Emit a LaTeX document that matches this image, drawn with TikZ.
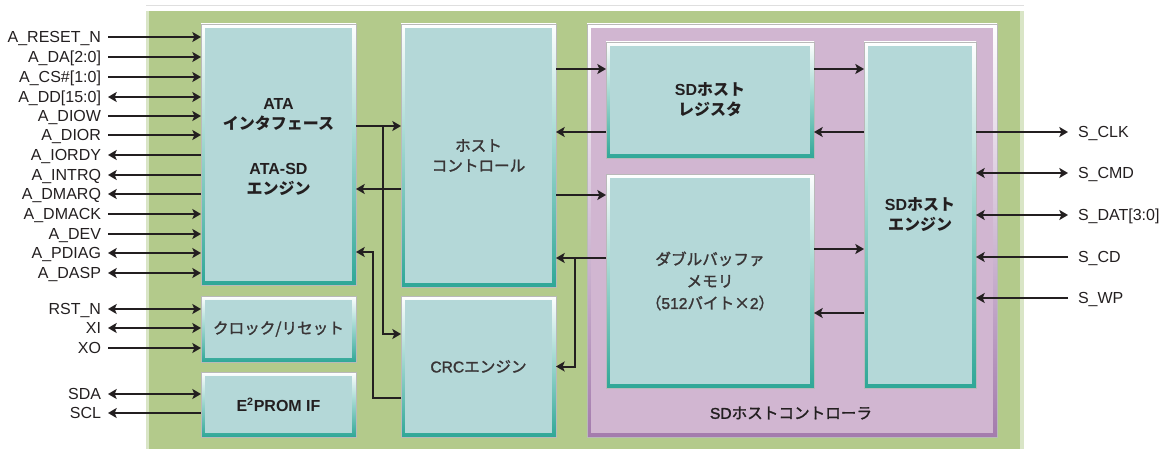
\documentclass[tikz,border=0pt]{standalone}
\usepackage{fontspec}
\setmainfont{Liberation Sans}
\newfontfamily\jp{Noto Sans CJK JP}
\newfontfamily\jpm{Noto Sans CJK JP}[UprightFeatures={FakeBold=1.6}]
\newfontfamily\latm{Liberation Sans}[UprightFeatures={FakeBold=1.6}]
\newcommand\latn[1]{{\rmfamily #1}}
\usetikzlibrary{arrows.meta,calc}

\definecolor{boardgreen}{HTML}{B3CA8B}
\definecolor{boardedge}{HTML}{D9E5C6}
\definecolor{blockface}{HTML}{B4D8D8}
\definecolor{blockedge}{HTML}{2FA797}
\definecolor{sdcface}{HTML}{D1B6D1}
\definecolor{sdcedge}{HTML}{A47BAD}
\definecolor{wireblack}{HTML}{231F20}

\begin{document}
\begin{tikzpicture}[x=0.75pt,y=-0.75pt]

\tikzset{
  bevel/.style={draw=gray!55, line width=0.4pt, inner sep=0pt, outer sep=0pt, top color=white,
    path picture={\fill[#1] ([shift={(3pt,-3pt)}]path picture bounding box.north west)
      rectangle ([shift={(-3pt,3pt)}]path picture bounding box.south east);}},
  block/.style={bevel=blockface, bottom color=blockedge, align=center, text=wireblack!90,
    font=\jpm\fontsize{11.7}{15}\selectfont},
  boldblock/.style={block, text=wireblack, font=\jp\bfseries\fontsize{12}{15}\selectfont},
  lsig/.style={anchor=east, font=\fontsize{12}{13}\selectfont, text=wireblack, text height=8.6pt,
    text depth=0pt, inner xsep=5.25pt, inner ysep=0pt, outer sep=0pt},
  rsig/.style={lsig, anchor=west, inner xsep=7.5pt},
  wire/.style={line width=1.5pt, draw=wireblack},
  >={Stealth[length=6.5pt,width=7.5pt,inset=1.5pt]}
}

\useasboundingbox (0,0) rectangle (1162,449);

% Board background
\draw[gray!25, line width=0.75pt] (146,6) -- (1024,6);
\fill[boardedge] (146,11) rectangle (1024,449);
\fill[boardgreen] (149,11) rectangle (1020,449);

% Draw the blocks
\node[bevel=sdcface, bottom color=sdcedge, minimum width=307.5pt, minimum height=309.75pt] (sdc) at (792,230.5) {};
\node[block, minimum width=116.25pt, minimum height=195.75pt] (ata) at (278.5,154.5) {};
\node[font=\jp\bfseries\fontsize{12}{15}\selectfont, text=wireblack, align=center] (atatext) at (278.5,147.5)
  {\latn{ATA}\\インタフェース\\[18.75pt]\latn{ATA-SD}\\エンジン};
\node[block, minimum width=116.25pt, minimum height=49.5pt] (clk) at (278.5,329) {クロック/リセット};
\node[boldblock, minimum width=116.25pt, minimum height=48.75pt] (eprom) at (278.5,404.5) {\latn{E\textsuperscript{2}PROM IF}};
\node[block, minimum width=116.25pt, minimum height=197.25pt] (host) at (478.5,155.5) {ホスト\\コントロール};
\node[block, minimum width=116.25pt, minimum height=105.75pt] (crc) at (478.5,366.5) {{\latm CRC}エンジン};
\node[boldblock, minimum width=156pt, minimum height=87pt] (reg) at (710,100) {\latn{SD}ホスト\\レジスタ};
\node[block, font=\jpm\fontsize{11.7}{16.5}\selectfont, minimum width=156pt, minimum height=160.5pt] (buf) at (710,281)
  {ダブルバッファ\\メモリ\\（{\latm 512}バイト×{\latm 2}）};
\node[boldblock, minimum width=84pt, minimum height=259.5pt] (eng) at (920,215) {\latn{SD}ホスト\\エンジン};
\node[font=\jpm\fontsize{11.7}{15}\selectfont, text=wireblack] (sdclabel) at (791,413) {{\latm SD}ホストコントローラ};

% ATA side signals
\node[lsig] (lreset) at (108,37) {A\_RESET\_N};
\node[lsig] (lda) at (108,57) {A\_DA[2:0]};
\node[lsig] (lcs) at (108,77) {A\_CS\#[1:0]};
\node[lsig] (ldd) at (108,97) {A\_DD[15:0]};
\node[lsig] (ldiow) at (108,116) {A\_DIOW};
\node[lsig] (ldior) at (108,135) {A\_DIOR};
\node[lsig] (liordy) at (108,155) {A\_IORDY};
\node[lsig] (lintrq) at (108,175) {A\_INTRQ};
\node[lsig] (ldmarq) at (108,194) {A\_DMARQ};
\node[lsig] (ldmack) at (108,214) {A\_DMACK};
\node[lsig] (ldev) at (108,234) {A\_DEV};
\node[lsig] (lpdiag) at (108,253) {A\_PDIAG};
\node[lsig] (ldasp) at (108,273) {A\_DASP};
\node[lsig] (lrst) at (108,309) {RST\_N};
\node[lsig] (lxi) at (108,328) {XI};
\node[lsig] (lxo) at (108,348) {XO};
\node[lsig] (lsda) at (108,394) {SDA};
\node[lsig] (lscl) at (108,413) {SCL};

% SD card side signals
\node[rsig] (rclk) at (1068,132) {S\_CLK};
\node[rsig] (rcmd) at (1068,173) {S\_CMD};
\node[rsig] (rdat) at (1068,215) {S\_DAT[3:0]};
\node[rsig] (rcd) at (1068,257) {S\_CD};
\node[rsig] (rwp) at (1068,298) {S\_WP};

\tikzset{every edge/.append style={wire}};

% External pins
\path
  (lreset) edge[->] (lreset -| ata.west)
  (lda) edge[->] (lda -| ata.west)
  (lcs) edge[->] (lcs -| ata.west)
  (ldd) edge[<->] (ldd -| ata.west)
  (ldiow) edge[->] (ldiow -| ata.west)
  (ldior) edge[->] (ldior -| ata.west)
  (liordy) edge[<-] (liordy -| ata.west)
  (lintrq) edge[<-] (lintrq -| ata.west)
  (ldmarq) edge[<-] (ldmarq -| ata.west)
  (ldmack) edge[->] (ldmack -| ata.west)
  (ldev) edge[->] (ldev -| ata.west)
  (lpdiag) edge[<->] (lpdiag -| ata.west)
  (ldasp) edge[<->] (ldasp -| ata.west)
  (lrst) edge[<->] (lrst -| clk.west)
  (lxi) edge[<->] (lxi -| clk.west)
  (lxo) edge[->] (lxo -| clk.west)
  (lsda) edge[<->] (lsda -| eprom.west)
  (lscl) edge[<-] (lscl -| eprom.west)
  (rclk) edge[<-] (rclk -| eng.east)
  (rcmd) edge[<->] (rcmd -| eng.east)
  (rdat) edge[<->] (rdat -| eng.east)
  (rcd) edge[->] (rcd -| eng.east)
  (rwp) edge[->] (rwp -| eng.east);

% ATA <-> host control, CRC
\draw[wire,->] ($(ata.east)+(0,-28.5)$) coordinate (atax) -- (atax -| host.west);
\draw[wire,->] ($(atax)+(27,0)$) |- ($(crc.west)+(0,-32.5)$);
\draw[wire,->] ($(host.west)+(0,33.5)$) coordinate (hosta) -- (hosta -| ata.east);
\draw[wire,->] ($(crc.west)+(0,31.5)$) -- ++(-28,0) |- ($(ata.east)+(0,97.5)$);

% host control <-> SD host controller
\draw[wire,->] ($(host.east)+(0,-86.5)$) coordinate (hostr) -- (hostr -| reg.west);
\draw[wire,->] ($(reg.west)+(0,32)$) coordinate (regh) -- (regh -| host.east);
\draw[wire,->] ($(host.east)+(0,39.5)$) coordinate (hostb) -- (hostb -| buf.west);
\draw[wire,->] ($(buf.west)+(0,-23)$) coordinate (bufh) -- (bufh -| host.east);
\draw[wire,->] ($(bufh)+(-31,0)$) |- (crc.east);

% register, buffer <-> engine
\draw[wire,->] ($(reg.east)+(0,-31)$) coordinate (rege) -- (rege -| eng.west);
\draw[wire,->] ($(eng.west)+(0,-83)$) coordinate (engr) -- (engr -| reg.east);
\draw[wire,->] ($(buf.east)+(0,-32)$) coordinate (bufe) -- (bufe -| eng.west);
\draw[wire,->] ($(eng.west)+(0,98)$) coordinate (engb) -- (engb -| buf.east);

\end{tikzpicture}
\end{document}
